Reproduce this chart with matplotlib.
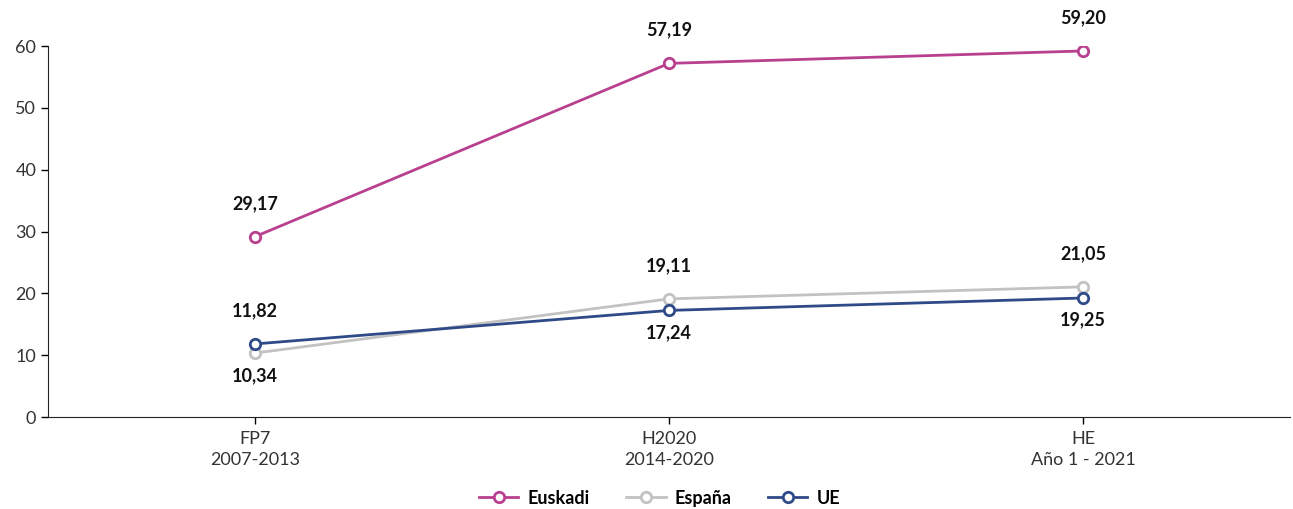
import matplotlib.pyplot as plt

categories = ['FP7\n2007-2013', 'H2020\n2014-2020', 'HE\nAño 1 - 2021']
euskadi = [29.17, 57.19, 59.20]
espana = [10.34, 19.11, 21.05]
ue = [11.82, 17.24, 19.25]

plt.rcParams['font.family'] = ['Lato', 'DejaVu Sans']

fig = plt.figure(figsize=(12.93, 5.09), dpi=100)
ax = fig.add_axes([0.0371, 0.1807, 0.9606, 0.7289])

x = range(len(categories))
series = [
    ('Euskadi', euskadi, '#B8408E', [1, 1, 1]),
    ('España', espana, '#C2C2C2', [-1, 1, 1]),
    ('UE', ue, '#2F4A88', [1, -1, -1]),
]
for name, vals, color, sides in series:
    ax.plot(x, vals, color=color, lw=2, marker='o', ms=7.5,
            mfc='white', mec=color, mew=2, label=name, zorder=3)
    for xi, v, s in zip(x, vals, sides):
        dy = 24 if s > 0 else -16
        ax.annotate(f'{v:.2f}'.replace('.', ','), (xi, v),
                    xytext=(0, dy), textcoords='offset points',
                    ha='center', va='center', fontsize=13, fontweight='bold',
                    color='#111111')

ax.set_xlim(-0.5, 2.5)
ax.set_ylim(0, 60)
ax.set_yticks(range(0, 61, 10))
ax.set_xticks(list(x))
ax.set_xticklabels(categories, fontsize=13, color='#333333', linespacing=1.4)
ax.tick_params(axis='y', labelsize=13, labelcolor='#333333', length=5, width=1)
ax.tick_params(axis='x', length=5, width=1, pad=5)
for side in ['top', 'right']:
    ax.spines[side].set_visible(False)
ax.spines['left'].set_color('#222222')
ax.spines['bottom'].set_color('#222222')

leg = fig.legend(loc='center', bbox_to_anchor=(0.51, 0.021), ncol=3, frameon=False,
                 prop={'size': 13, 'weight': 'bold'}, handlelength=2.2,
                 columnspacing=2.0, handletextpad=0.5)

fig.savefig('out.png', dpi=100)
